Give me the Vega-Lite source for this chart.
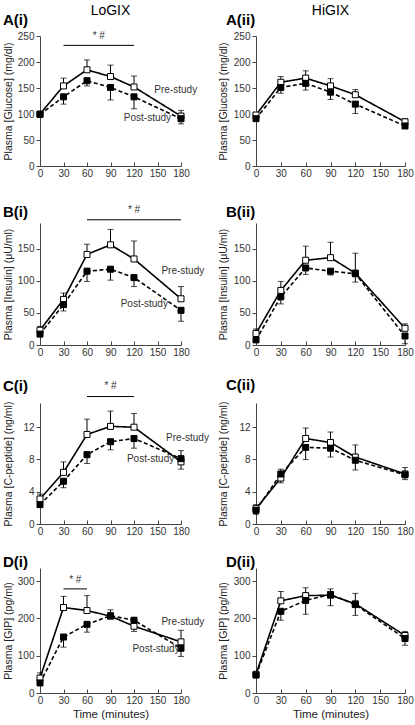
{
"$schema":"https://vega.github.io/schema/vega-lite/v6.json",
"padding":{"left":2,"top":4,"right":2,"bottom":0},
"background":"white",
"config":{
 "view":{"stroke":null},
 "font":"Liberation Sans",
 "axis":{"labelFont":"Liberation Sans","labelFontSize":10,"labelColor":"#333","titleFont":"Liberation Sans","titleFontSize":10.5,"titleFontWeight":"normal","titleColor":"#222","domainColor":"#444","tickColor":"#444","grid":false},
 "axisX":{"tickSize":-4,"labelPadding":6,"labelFlush":false},
 "axisY":{"tickSize":4,"labelPadding":2},
 "title":{"font":"Liberation Sans","fontSize":15,"fontWeight":"bold","anchor":"start","color":"black"}
},
"datasets":{"d":[
{"p":"A(i)","k":"m","g":"Pre","t":0,"v":100,"e":104},{"p":"A(i)","k":"m","g":"Pre","t":30,"v":154,"e":169},{"p":"A(i)","k":"m","g":"Pre","t":60,"v":185,"e":204},{"p":"A(i)","k":"m","g":"Pre","t":90,"v":172,"e":194},{"p":"A(i)","k":"m","g":"Pre","t":120,"v":152,"e":173},{"p":"A(i)","k":"m","g":"Pre","t":180,"v":96,"e":107},
{"p":"A(i)","k":"m","g":"Post","t":0,"v":99,"e":95},{"p":"A(i)","k":"m","g":"Post","t":30,"v":133,"e":119},{"p":"A(i)","k":"m","g":"Post","t":60,"v":164,"e":154},{"p":"A(i)","k":"m","g":"Post","t":90,"v":151,"e":127},{"p":"A(i)","k":"m","g":"Post","t":120,"v":133,"e":110},{"p":"A(i)","k":"m","g":"Post","t":180,"v":91,"e":81},
{"p":"A(ii)","k":"m","g":"Pre","t":0,"v":98,"e":101},{"p":"A(ii)","k":"m","g":"Pre","t":30,"v":161,"e":172},{"p":"A(ii)","k":"m","g":"Pre","t":60,"v":169,"e":183},{"p":"A(ii)","k":"m","g":"Pre","t":90,"v":154,"e":168},{"p":"A(ii)","k":"m","g":"Pre","t":120,"v":137,"e":147},{"p":"A(ii)","k":"m","g":"Pre","t":180,"v":85,"e":91},
{"p":"A(ii)","k":"m","g":"Post","t":0,"v":91,"e":88},{"p":"A(ii)","k":"m","g":"Post","t":30,"v":151,"e":140},{"p":"A(ii)","k":"m","g":"Post","t":60,"v":159,"e":146},{"p":"A(ii)","k":"m","g":"Post","t":90,"v":142,"e":128},{"p":"A(ii)","k":"m","g":"Post","t":120,"v":119,"e":101},{"p":"A(ii)","k":"m","g":"Post","t":180,"v":77,"e":72},
{"p":"B(i)","k":"m","g":"Pre","t":0,"v":23,"e":29},{"p":"B(i)","k":"m","g":"Pre","t":30,"v":71,"e":81},{"p":"B(i)","k":"m","g":"Pre","t":60,"v":141,"e":157},{"p":"B(i)","k":"m","g":"Pre","t":90,"v":156,"e":180},{"p":"B(i)","k":"m","g":"Pre","t":120,"v":134,"e":162},{"p":"B(i)","k":"m","g":"Pre","t":180,"v":72,"e":91},
{"p":"B(i)","k":"m","g":"Post","t":0,"v":17,"e":14},{"p":"B(i)","k":"m","g":"Post","t":30,"v":63,"e":53},{"p":"B(i)","k":"m","g":"Post","t":60,"v":115,"e":99},{"p":"B(i)","k":"m","g":"Post","t":90,"v":118,"e":101},{"p":"B(i)","k":"m","g":"Post","t":120,"v":105,"e":91},{"p":"B(i)","k":"m","g":"Post","t":180,"v":54,"e":37},
{"p":"B(ii)","k":"m","g":"Pre","t":0,"v":18,"e":25},{"p":"B(ii)","k":"m","g":"Pre","t":30,"v":85,"e":99},{"p":"B(ii)","k":"m","g":"Pre","t":60,"v":132,"e":154},{"p":"B(ii)","k":"m","g":"Pre","t":90,"v":136,"e":160},{"p":"B(ii)","k":"m","g":"Pre","t":120,"v":112,"e":143},{"p":"B(ii)","k":"m","g":"Pre","t":180,"v":26,"e":33},
{"p":"B(ii)","k":"m","g":"Post","t":0,"v":8,"e":5},{"p":"B(ii)","k":"m","g":"Post","t":30,"v":75,"e":64},{"p":"B(ii)","k":"m","g":"Post","t":60,"v":120,"e":110},{"p":"B(ii)","k":"m","g":"Post","t":90,"v":115,"e":109},{"p":"B(ii)","k":"m","g":"Post","t":120,"v":111,"e":98},{"p":"B(ii)","k":"m","g":"Post","t":180,"v":14,"e":2},
{"p":"C(i)","k":"m","g":"Pre","t":0,"v":3.1,"e":3.7},{"p":"C(i)","k":"m","g":"Pre","t":30,"v":6.4,"e":7.7},{"p":"C(i)","k":"m","g":"Pre","t":60,"v":11.1,"e":13.0},{"p":"C(i)","k":"m","g":"Pre","t":90,"v":12.1,"e":14.0},{"p":"C(i)","k":"m","g":"Pre","t":120,"v":12.0,"e":13.7},{"p":"C(i)","k":"m","g":"Pre","t":180,"v":7.7,"e":6.8},
{"p":"C(i)","k":"m","g":"Post","t":0,"v":2.4,"e":2.1},{"p":"C(i)","k":"m","g":"Post","t":30,"v":5.3,"e":4.5},{"p":"C(i)","k":"m","g":"Post","t":60,"v":8.6,"e":7.5},{"p":"C(i)","k":"m","g":"Post","t":90,"v":10.2,"e":9.2},{"p":"C(i)","k":"m","g":"Post","t":120,"v":10.6,"e":9.4},{"p":"C(i)","k":"m","g":"Post","t":180,"v":8.1,"e":9.1},
{"p":"C(ii)","k":"m","g":"Pre","t":0,"v":1.9,"e":2.4},{"p":"C(ii)","k":"m","g":"Pre","t":30,"v":5.7,"e":5.1},{"p":"C(ii)","k":"m","g":"Pre","t":60,"v":10.6,"e":11.9},{"p":"C(ii)","k":"m","g":"Pre","t":90,"v":10.1,"e":11.4},{"p":"C(ii)","k":"m","g":"Pre","t":120,"v":8.3,"e":9.8},{"p":"C(ii)","k":"m","g":"Pre","t":180,"v":6.2,"e":7.0},
{"p":"C(ii)","k":"m","g":"Post","t":0,"v":1.7,"e":1.2},{"p":"C(ii)","k":"m","g":"Post","t":30,"v":6.2,"e":6.8},{"p":"C(ii)","k":"m","g":"Post","t":60,"v":9.5,"e":8.0},{"p":"C(ii)","k":"m","g":"Post","t":90,"v":9.4,"e":8.3},{"p":"C(ii)","k":"m","g":"Post","t":120,"v":7.9,"e":6.7},{"p":"C(ii)","k":"m","g":"Post","t":180,"v":6.1,"e":5.5},
{"p":"D(i)","k":"m","g":"Pre","t":0,"v":40,"e":54},{"p":"D(i)","k":"m","g":"Pre","t":30,"v":229,"e":259},{"p":"D(i)","k":"m","g":"Pre","t":60,"v":221,"e":261},{"p":"D(i)","k":"m","g":"Pre","t":90,"v":206,"e":223},{"p":"D(i)","k":"m","g":"Pre","t":120,"v":179,"e":165},{"p":"D(i)","k":"m","g":"Pre","t":180,"v":137,"e":168},
{"p":"D(i)","k":"m","g":"Post","t":0,"v":27,"e":22},{"p":"D(i)","k":"m","g":"Post","t":30,"v":150,"e":123},{"p":"D(i)","k":"m","g":"Post","t":60,"v":184,"e":163},{"p":"D(i)","k":"m","g":"Post","t":90,"v":207,"e":200},{"p":"D(i)","k":"m","g":"Post","t":120,"v":195,"e":200},{"p":"D(i)","k":"m","g":"Post","t":180,"v":120,"e":98},
{"p":"D(ii)","k":"m","g":"Pre","t":0,"v":50,"e":55},{"p":"D(ii)","k":"m","g":"Pre","t":30,"v":247,"e":272},{"p":"D(ii)","k":"m","g":"Pre","t":60,"v":261,"e":282},{"p":"D(ii)","k":"m","g":"Pre","t":90,"v":262,"e":234},{"p":"D(ii)","k":"m","g":"Pre","t":120,"v":239,"e":267},{"p":"D(ii)","k":"m","g":"Pre","t":180,"v":154,"e":165},
{"p":"D(ii)","k":"m","g":"Post","t":0,"v":48,"e":44},{"p":"D(ii)","k":"m","g":"Post","t":30,"v":219,"e":195},{"p":"D(ii)","k":"m","g":"Post","t":60,"v":248,"e":211},{"p":"D(ii)","k":"m","g":"Post","t":90,"v":264,"e":279},{"p":"D(ii)","k":"m","g":"Post","t":120,"v":237,"e":208},{"p":"D(ii)","k":"m","g":"Post","t":180,"v":146,"e":128},
{"p":"A(i)","k":"s","t":30,"t2":120,"v":232},{"p":"B(i)","k":"s","t":60,"t2":180,"v":195},{"p":"C(i)","k":"s","t":60,"t2":120,"v":15.8},{"p":"D(i)","k":"s","t":30,"t2":60,"v":279},
{"p":"A(i)","k":"c","t":75,"v":250,"txt":"* #"},{"p":"B(i)","k":"c","t":120,"v":211,"txt":"* #"},{"p":"C(i)","k":"c","t":90,"v":17.1,"txt":"* #"},{"p":"D(i)","k":"c","t":45,"v":302,"txt":"* #"},
{"p":"A(i)","k":"x","t":146,"v":147,"txt":"Pre-study"},{"p":"A(i)","k":"x","t":107,"v":92,"txt":"Post-study"},
{"p":"B(i)","k":"x","t":155,"v":115,"txt":"Pre-study"},{"p":"B(i)","k":"x","t":103,"v":64,"txt":"Post-study"},
{"p":"C(i)","k":"x","t":161,"v":10.6,"txt":"Pre-study"},{"p":"C(i)","k":"x","t":111,"v":8.0,"txt":"Post-study"},
{"p":"D(i)","k":"x","t":155,"v":189,"txt":"Pre-study"},{"p":"D(i)","k":"x","t":118,"v":119,"txt":"Post-study"}
]},
"columns":2,
"align":"each",
"bounds":"flush",
"spacing":{"row":0,"column":75},
"concat":[
{"width":141,"height":18,"data":{"values":[]},"mark":"point","title":{"text":"LoGIX","anchor":"middle","frame":"group","fontSize":14,"fontWeight":"normal","offset":0}},
{"width":149,"height":18,"data":{"values":[]},"mark":"point","title":{"text":"HiGIX","anchor":"middle","frame":"group","fontSize":14,"fontWeight":"normal","offset":0}},
{"width":141,"height":130,"title":{"text":"A(i)","offset":3},"data":{"name":"d"},"transform":[{"filter":"datum.p=='A(i)'"}],
 "encoding":{"x":{"field":"t","type":"quantitative","scale":{"domain":[0,180]},"axis":{"values":[0,30,60,90,120,150,180],"title":null}},
  "y":{"field":"v","type":"quantitative","scale":{"domain":[0,250]},"axis":{"values":[0,50,100,150,200,250],"title":"Plasma [Glucose] (mg/dl)","titleX":-27}}},
 "layer":[
  {"transform":[{"filter":"datum.k=='m'"}],"mark":{"type":"rule","color":"black","strokeWidth":1},"encoding":{"y2":{"field":"e"}}},
  {"transform":[{"filter":"datum.k=='m'"}],"mark":{"type":"tick","orient":"horizontal","color":"black","size":6,"thickness":1},"encoding":{"y":{"field":"e","type":"quantitative","title":"Plasma [Glucose] (mg/dl)"}}},
  {"transform":[{"filter":"datum.k=='m'"}],"mark":{"type":"line","color":"black","strokeWidth":1.6},"encoding":{"strokeDash":{"field":"g","type":"nominal","scale":{"domain":["Pre","Post"],"range":[[1,0],[4,2.5]]},"legend":null}}},
  {"transform":[{"filter":"datum.k=='m'"}],"mark":{"type":"point","shape":"square","size":36,"stroke":"black","strokeWidth":1,"opacity":1,"filled":true},"encoding":{"fill":{"field":"g","type":"nominal","scale":{"domain":["Pre","Post"],"range":["white","black"]},"legend":null}}},
  {"transform":[{"filter":"datum.k=='s'"}],"mark":{"type":"rule","color":"black","strokeWidth":1},"encoding":{"x2":{"field":"t2"}}},
  {"transform":[{"filter":"datum.k=='c'"}],"mark":{"type":"text","fontSize":10,"color":"#333"},"encoding":{"text":{"field":"txt"}}},
  {"transform":[{"filter":"datum.k=='x'"}],"mark":{"type":"text","align":"left","fontSize":10,"color":"#333"},"encoding":{"text":{"field":"txt"}}}
 ]},
{"width":149,"height":130,"title":{"text":"A(ii)","offset":3,"dx":8},"data":{"name":"d"},"transform":[{"filter":"datum.p=='A(ii)'"}],
 "encoding":{"x":{"field":"t","type":"quantitative","scale":{"domain":[0,180]},"axis":{"values":[0,30,60,90,120,150,180],"title":null}},
  "y":{"field":"v","type":"quantitative","scale":{"domain":[0,250]},"axis":{"values":[0,50,100,150,200,250],"title":"Plasma [Glucose] (mg/dl)","titleX":-28}}},
 "layer":[
  {"transform":[{"filter":"datum.k=='m'"}],"mark":{"type":"rule","color":"black","strokeWidth":1},"encoding":{"y2":{"field":"e"}}},
  {"transform":[{"filter":"datum.k=='m'"}],"mark":{"type":"tick","orient":"horizontal","color":"black","size":6,"thickness":1},"encoding":{"y":{"field":"e","type":"quantitative","title":"Plasma [Glucose] (mg/dl)"}}},
  {"transform":[{"filter":"datum.k=='m'"}],"mark":{"type":"line","color":"black","strokeWidth":1.6},"encoding":{"strokeDash":{"field":"g","type":"nominal","scale":{"domain":["Pre","Post"],"range":[[1,0],[4,2.5]]},"legend":null}}},
  {"transform":[{"filter":"datum.k=='m'"}],"mark":{"type":"point","shape":"square","size":36,"stroke":"black","strokeWidth":1,"opacity":1,"filled":true},"encoding":{"fill":{"field":"g","type":"nominal","scale":{"domain":["Pre","Post"],"range":["white","black"]},"legend":null}}}
 ]},
{"width":141,"height":57,"data":{"values":[]},"mark":"point"},
{"width":149,"height":57,"data":{"values":[]},"mark":"point"},
{"width":141,"height":122,"title":{"text":"B(i)","offset":-15},"data":{"name":"d"},"transform":[{"filter":"datum.p=='B(i)'"}],
 "encoding":{"x":{"field":"t","type":"quantitative","scale":{"domain":[0,180]},"axis":{"values":[0,30,60,90,120,150,180],"title":null}},
  "y":{"field":"v","type":"quantitative","scale":{"domain":[0,190]},"axis":{"values":[0,50,100,150],"title":"Plasma [Insulin] (μU/ml)","titleX":-27}}},
 "layer":[
  {"transform":[{"filter":"datum.k=='m'"}],"mark":{"type":"rule","color":"black","strokeWidth":1},"encoding":{"y2":{"field":"e"}}},
  {"transform":[{"filter":"datum.k=='m'"}],"mark":{"type":"tick","orient":"horizontal","color":"black","size":6,"thickness":1},"encoding":{"y":{"field":"e","type":"quantitative","title":"Plasma [Insulin] (μU/ml)"}}},
  {"transform":[{"filter":"datum.k=='m'"}],"mark":{"type":"line","color":"black","strokeWidth":1.6},"encoding":{"strokeDash":{"field":"g","type":"nominal","scale":{"domain":["Pre","Post"],"range":[[1,0],[4,2.5]]},"legend":null}}},
  {"transform":[{"filter":"datum.k=='m'"}],"mark":{"type":"point","shape":"square","size":36,"stroke":"black","strokeWidth":1,"opacity":1,"filled":true},"encoding":{"fill":{"field":"g","type":"nominal","scale":{"domain":["Pre","Post"],"range":["white","black"]},"legend":null}}},
  {"transform":[{"filter":"datum.k=='s'"}],"mark":{"type":"rule","color":"black","strokeWidth":1},"encoding":{"x2":{"field":"t2"}}},
  {"transform":[{"filter":"datum.k=='c'"}],"mark":{"type":"text","fontSize":10,"color":"#333"},"encoding":{"text":{"field":"txt"}}},
  {"transform":[{"filter":"datum.k=='x'"}],"mark":{"type":"text","align":"left","fontSize":10,"color":"#333"},"encoding":{"text":{"field":"txt"}}}
 ]},
{"width":149,"height":122,"title":{"text":"B(ii)","offset":3,"dx":8},"data":{"name":"d"},"transform":[{"filter":"datum.p=='B(ii)'"}],
 "encoding":{"x":{"field":"t","type":"quantitative","scale":{"domain":[0,180]},"axis":{"values":[0,30,60,90,120,150,180],"title":null}},
  "y":{"field":"v","type":"quantitative","scale":{"domain":[0,190]},"axis":{"values":[0,50,100,150],"title":"Plasma [Insulin] (μU/ml)","titleX":-28}}},
 "layer":[
  {"transform":[{"filter":"datum.k=='m'"}],"mark":{"type":"rule","color":"black","strokeWidth":1},"encoding":{"y2":{"field":"e"}}},
  {"transform":[{"filter":"datum.k=='m'"}],"mark":{"type":"tick","orient":"horizontal","color":"black","size":6,"thickness":1},"encoding":{"y":{"field":"e","type":"quantitative","title":"Plasma [Insulin] (μU/ml)"}}},
  {"transform":[{"filter":"datum.k=='m'"}],"mark":{"type":"line","color":"black","strokeWidth":1.6},"encoding":{"strokeDash":{"field":"g","type":"nominal","scale":{"domain":["Pre","Post"],"range":[[1,0],[4,2.5]]},"legend":null}}},
  {"transform":[{"filter":"datum.k=='m'"}],"mark":{"type":"point","shape":"square","size":36,"stroke":"black","strokeWidth":1,"opacity":1,"filled":true},"encoding":{"fill":{"field":"g","type":"nominal","scale":{"domain":["Pre","Post"],"range":["white","black"]},"legend":null}}}
 ]},
{"width":141,"height":58,"data":{"values":[]},"mark":"point"},
{"width":149,"height":58,"data":{"values":[]},"mark":"point"},
{"width":141,"height":121,"title":{"text":"C(i)","offset":-13},"data":{"name":"d"},"transform":[{"filter":"datum.p=='C(i)'"}],
 "encoding":{"x":{"field":"t","type":"quantitative","scale":{"domain":[0,180]},"axis":{"values":[0,30,60,90,120,150,180],"title":null}},
  "y":{"field":"v","type":"quantitative","scale":{"domain":[0,15]},"axis":{"values":[0,4,8,12],"title":"Plasma [C-peptide] (ng/ml)","titleX":-27}}},
 "layer":[
  {"transform":[{"filter":"datum.k=='m'"}],"mark":{"type":"rule","color":"black","strokeWidth":1},"encoding":{"y2":{"field":"e"}}},
  {"transform":[{"filter":"datum.k=='m'"}],"mark":{"type":"tick","orient":"horizontal","color":"black","size":6,"thickness":1},"encoding":{"y":{"field":"e","type":"quantitative","title":"Plasma [C-peptide] (ng/ml)"}}},
  {"transform":[{"filter":"datum.k=='m'"}],"mark":{"type":"line","color":"black","strokeWidth":1.6},"encoding":{"strokeDash":{"field":"g","type":"nominal","scale":{"domain":["Pre","Post"],"range":[[1,0],[4,2.5]]},"legend":null}}},
  {"transform":[{"filter":"datum.k=='m'"}],"mark":{"type":"point","shape":"square","size":36,"stroke":"black","strokeWidth":1,"opacity":1,"filled":true},"encoding":{"fill":{"field":"g","type":"nominal","scale":{"domain":["Pre","Post"],"range":["white","black"]},"legend":null}}},
  {"transform":[{"filter":"datum.k=='s'"}],"mark":{"type":"rule","color":"black","strokeWidth":1},"encoding":{"x2":{"field":"t2"}}},
  {"transform":[{"filter":"datum.k=='c'"}],"mark":{"type":"text","fontSize":10,"color":"#333"},"encoding":{"text":{"field":"txt"}}},
  {"transform":[{"filter":"datum.k=='x'"}],"mark":{"type":"text","align":"left","fontSize":10,"color":"#333"},"encoding":{"text":{"field":"txt"}}}
 ]},
{"width":149,"height":121,"title":{"text":"C(ii)","offset":8.5,"dx":8},"data":{"name":"d"},"transform":[{"filter":"datum.p=='C(ii)'"}],
 "encoding":{"x":{"field":"t","type":"quantitative","scale":{"domain":[0,180]},"axis":{"values":[0,30,60,90,120,150,180],"title":null}},
  "y":{"field":"v","type":"quantitative","scale":{"domain":[0,15]},"axis":{"values":[0,4,8,12],"title":"Plasma [C-peptide] (ng/ml)","titleX":-28}}},
 "layer":[
  {"transform":[{"filter":"datum.k=='m'"}],"mark":{"type":"rule","color":"black","strokeWidth":1},"encoding":{"y2":{"field":"e"}}},
  {"transform":[{"filter":"datum.k=='m'"}],"mark":{"type":"tick","orient":"horizontal","color":"black","size":6,"thickness":1},"encoding":{"y":{"field":"e","type":"quantitative","title":"Plasma [C-peptide] (ng/ml)"}}},
  {"transform":[{"filter":"datum.k=='m'"}],"mark":{"type":"line","color":"black","strokeWidth":1.6},"encoding":{"strokeDash":{"field":"g","type":"nominal","scale":{"domain":["Pre","Post"],"range":[[1,0],[4,2.5]]},"legend":null}}},
  {"transform":[{"filter":"datum.k=='m'"}],"mark":{"type":"point","shape":"square","size":36,"stroke":"black","strokeWidth":1,"opacity":1,"filled":true},"encoding":{"fill":{"field":"g","type":"nominal","scale":{"domain":["Pre","Post"],"range":["white","black"]},"legend":null}}}
 ]},
{"width":141,"height":44,"data":{"values":[]},"mark":"point"},
{"width":149,"height":44,"data":{"values":[]},"mark":"point"},
{"width":141,"height":125,"title":{"text":"D(i)","offset":-2},"data":{"name":"d"},"transform":[{"filter":"datum.p=='D(i)'"}],
 "encoding":{"x":{"field":"t","type":"quantitative","scale":{"domain":[0,180]},"axis":{"values":[0,30,60,90,120,150,180],"title":"Time (minutes)","titleFontSize":11.5,"titlePadding":3}},
  "y":{"field":"v","type":"quantitative","scale":{"domain":[0,335]},"axis":{"values":[0,100,200,300],"title":"Plasma [GIP] (pg/ml)","titleX":-27}}},
 "layer":[
  {"transform":[{"filter":"datum.k=='m'"}],"mark":{"type":"rule","color":"black","strokeWidth":1},"encoding":{"y2":{"field":"e"}}},
  {"transform":[{"filter":"datum.k=='m'"}],"mark":{"type":"tick","orient":"horizontal","color":"black","size":6,"thickness":1},"encoding":{"y":{"field":"e","type":"quantitative","title":"Plasma [GIP] (pg/ml)"}}},
  {"transform":[{"filter":"datum.k=='m'"}],"mark":{"type":"line","color":"black","strokeWidth":1.6},"encoding":{"strokeDash":{"field":"g","type":"nominal","scale":{"domain":["Pre","Post"],"range":[[1,0],[4,2.5]]},"legend":null}}},
  {"transform":[{"filter":"datum.k=='m'"}],"mark":{"type":"point","shape":"square","size":36,"stroke":"black","strokeWidth":1,"opacity":1,"filled":true},"encoding":{"fill":{"field":"g","type":"nominal","scale":{"domain":["Pre","Post"],"range":["white","black"]},"legend":null}}},
  {"transform":[{"filter":"datum.k=='s'"}],"mark":{"type":"rule","color":"black","strokeWidth":1},"encoding":{"x2":{"field":"t2"}}},
  {"transform":[{"filter":"datum.k=='c'"}],"mark":{"type":"text","fontSize":10,"color":"#333"},"encoding":{"text":{"field":"txt"}}},
  {"transform":[{"filter":"datum.k=='x'"}],"mark":{"type":"text","align":"left","fontSize":10,"color":"#333"},"encoding":{"text":{"field":"txt"}}}
 ]},
{"width":149,"height":125,"title":{"text":"D(ii)","offset":-2,"dx":8},"data":{"name":"d"},"transform":[{"filter":"datum.p=='D(ii)'"}],
 "encoding":{"x":{"field":"t","type":"quantitative","scale":{"domain":[0,180]},"axis":{"values":[0,30,60,90,120,150,180],"title":"Time (minutes)","titleFontSize":11.5,"titlePadding":3}},
  "y":{"field":"v","type":"quantitative","scale":{"domain":[0,335]},"axis":{"values":[0,100,200,300],"title":"Plasma [GIP] (pg/ml)","titleX":-28}}},
 "layer":[
  {"transform":[{"filter":"datum.k=='m'"}],"mark":{"type":"rule","color":"black","strokeWidth":1},"encoding":{"y2":{"field":"e"}}},
  {"transform":[{"filter":"datum.k=='m'"}],"mark":{"type":"tick","orient":"horizontal","color":"black","size":6,"thickness":1},"encoding":{"y":{"field":"e","type":"quantitative","title":"Plasma [GIP] (pg/ml)"}}},
  {"transform":[{"filter":"datum.k=='m'"}],"mark":{"type":"line","color":"black","strokeWidth":1.6},"encoding":{"strokeDash":{"field":"g","type":"nominal","scale":{"domain":["Pre","Post"],"range":[[1,0],[4,2.5]]},"legend":null}}},
  {"transform":[{"filter":"datum.k=='m'"}],"mark":{"type":"point","shape":"square","size":36,"stroke":"black","strokeWidth":1,"opacity":1,"filled":true},"encoding":{"fill":{"field":"g","type":"nominal","scale":{"domain":["Pre","Post"],"range":["white","black"]},"legend":null}}}
 ]}
]
}
